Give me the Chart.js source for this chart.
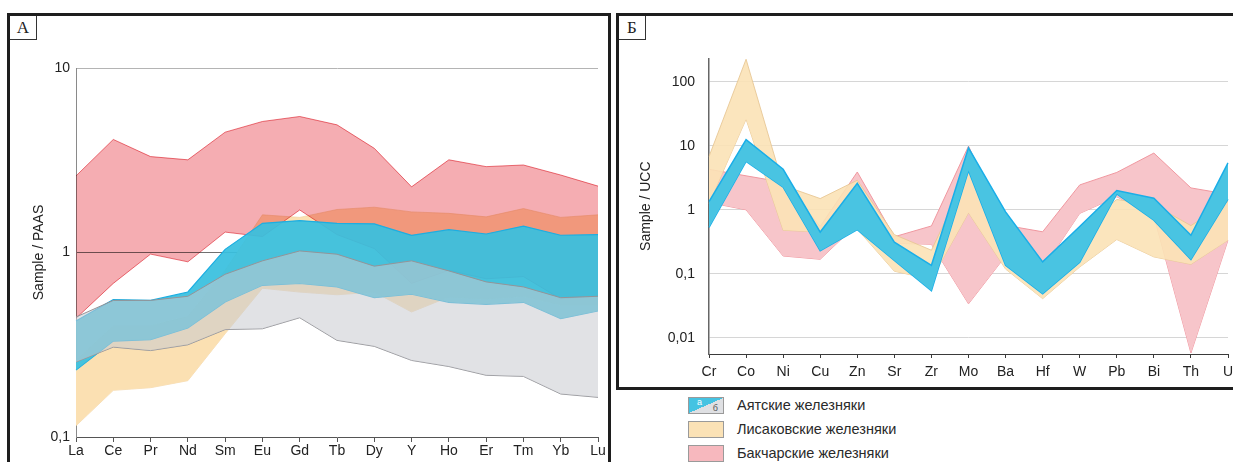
<!DOCTYPE html>
<html lang="ru">
<head>
<meta charset="utf-8">
<title>Sample / PAAS, Sample / UCC</title>
<script src="https://cdn.jsdelivr.net/npm/chart.js@4.4.1/dist/chart.umd.min.js"></script>
<style>
  html, body { margin: 0; padding: 0; background: #fff; overflow: hidden; }
  body { width: 1233px; height: 462px; position: relative; font-family: "Liberation Sans", Arial, sans-serif; }
  .panel { position: absolute; box-sizing: border-box; border: 3px solid #1e1e1e; }
  #panelA { left: 7px; top: 13px; width: 604px; height: 480px; }
  #panelB { left: 616px; top: 13px; width: 700px; height: 377px; }
  .tag { position: absolute; left: 0; top: 0; width: 26px; height: 23px;
         border-right: 1px solid #333; border-bottom: 1px solid #333;
         font-family: "Liberation Serif", serif; font-size: 17px; line-height: 24px;
         text-align: center; color: #222; }
  canvas { position: absolute; }
  #chartA { left: 20px; top: 50px; }
  #chartB { left: 625px; top: 36px; }
  .legend-item { position: absolute; left: 688px; height: 16px; }
  .swatch { position: absolute; left: 0; top: 0; width: 34px; height: 15px; border: 1px solid #9a9a9a; }
  .swatch i, .swatch b { position: absolute; font-style: normal; font-weight: normal; font-size: 9px; line-height: 9px; }
  .swatch i { left: 8px; top: 0px; color: #fff; }
  .swatch b { right: 5px; bottom: 0px; color: #555; }
  .legend-text { position: absolute; left: 49px; top: -1px; font-size: 14.5px; line-height: 19px; color: #2a2a2a; white-space: nowrap; }
</style>
</head>
<body>
<div class="panel" id="panelA"><div class="tag">А</div></div>
<div class="panel" id="panelB"><div class="tag">Б</div></div>
<canvas id="chartA" width="590" height="410"></canvas>
<canvas id="chartB" width="640" height="350"></canvas>
<div id="legend"></div>

<script>
// ===============================
// DONNÉES
// ===============================

// Panel А : REE normalisés PAAS
const reeLabels = ['La', 'Ce', 'Pr', 'Nd', 'Sm', 'Eu', 'Gd', 'Tb', 'Dy', 'Y', 'Ho', 'Er', 'Tm', 'Yb', 'Lu'];
const paasTicks = [0.1, 1, 10];
const paasTickLabels = ['0,1', '1', '10'];

const lisakA_max = [0.26, 0.40, 0.40, 0.45, 0.80, 1.60, 1.55, 1.71, 1.76, 1.66, 1.63, 1.56, 1.73, 1.55, 1.60];
const lisakA_min = [0.115, 0.179, 0.185, 0.202, 0.363, 0.64, 0.61, 0.59, 0.61, 0.476, 0.574, 0.56, 0.58, 0.52, 0.52];

const bakcharA_max = [2.6, 4.1, 3.31, 3.18, 4.49, 5.13, 5.46, 4.92, 3.67, 2.27, 3.18, 2.92, 2.98, 2.63, 2.29];
const bakcharA_min = [0.44, 0.68, 0.98, 0.89, 1.29, 1.22, 1.70, 1.25, 1.05, 0.68, 0.80, 0.72, 0.74, 0.56, 0.58];

const ayatA_max = [0.425, 0.556, 0.55, 0.611, 1.04, 1.44, 1.49, 1.44, 1.43, 1.24, 1.33, 1.26, 1.39, 1.24, 1.25];
const ayatA_min = [0.231, 0.331, 0.337, 0.390, 0.539, 0.664, 0.679, 0.651, 0.569, 0.594, 0.537, 0.524, 0.537, 0.438, 0.482];

const ayatB_max = [0.447, 0.55, 0.55, 0.579, 0.762, 0.901, 1.02, 0.979, 0.843, 0.901, 0.795, 0.693, 0.651, 0.569, 0.579];
const ayatB_min = [0.255, 0.307, 0.294, 0.316, 0.382, 0.386, 0.443, 0.334, 0.310, 0.260, 0.241, 0.216, 0.213, 0.171, 0.164];

// Panel Б : éléments traces normalisés UCC
const traceLabels = ['Cr', 'Co', 'Ni', 'Cu', 'Zn', 'Sr', 'Zr', 'Mo', 'Ba', 'Hf', 'W', 'Pb', 'Bi', 'Th', 'U'];
const uccTicks = [0.01, 0.1, 1, 10, 100];
const uccTickLabels = ['0,01', '0,1', '1', '10', '100'];

const bakcharT_max = [4.3, 3.4, 2.7, 0.55, 3.9, 0.38, 0.56, 9.9, 0.573, 0.454, 2.45, 3.84, 7.7, 2.2, 1.75];
const bakcharT_min = [1.3, 1.0, 0.19, 0.169, 0.6, 0.3, 0.29, 0.034, 0.19, 0.12, 0.88, 1.6, 0.81, 0.0058, 0.336];

const lisakT_max = [6.8, 225, 2.4, 1.5, 2.9, 0.41, 0.234, 3.9, 0.9, 0.15, 0.5, 1.45, 1.2, 0.567, 1.35];
const lisakT_min = [1.26, 26, 0.48, 0.45, 0.5, 0.11, 0.082, 0.90, 0.119, 0.041, 0.128, 0.344, 0.184, 0.141, 0.336];

const ayatT_max = [1.34, 12.5, 4.3, 0.45, 2.6, 0.313, 0.136, 9.3, 0.93, 0.154, 0.55, 2.0, 1.52, 0.40, 5.4];
const ayatT_min = [0.53, 5.7, 2.26, 0.229, 0.49, 0.162, 0.0546, 4.1, 0.136, 0.049, 0.152, 1.78, 0.69, 0.168, 1.47];

const seriesNames = ['Аятские железняки', 'Лисаковские железняки', 'Бакчарские железняки'];

// ===============================
// OUTILS
// ===============================

Chart.defaults.font.family = '"Liberation Sans", Arial, sans-serif';
Chart.defaults.font.size = 14;
Chart.defaults.color = '#222';

// une bande = ligne basse + ligne haute remplie jusqu'à la précédente
function band(lower, upper, fillColor, lineColor, lineWidth, blend) {
    const base = { pointRadius: 0, pointHoverRadius: 0, tension: 0, borderColor: lineColor, borderWidth: lineWidth, blend: blend };
    return [
        Object.assign({}, base, { data: lower, fill: false }),
        Object.assign({}, base, { data: upper, fill: '-1', backgroundColor: fillColor })
    ];
}

// premier dataset dessiné en dessous
function stackOrder(sets) {
    return sets.map((d, i) => Object.assign(d, { order: sets.length - i }));
}

// mode de fusion (multiply) pour certaines bandes
function setBlend(chart, i) {
    const ds = chart.data.datasets[i];
    chart.ctx.globalCompositeOperation = (ds && ds.blend) || 'source-over';
}
const blendPlugin = {
    id: 'bandBlend',
    beforeDatasetsDraw(chart) { setBlend(chart, 0); },
    afterDatasetDraw(chart, args) { setBlend(chart, args.index + 1); },
    afterDatasetsDraw(chart) { chart.ctx.globalCompositeOperation = 'source-over'; }
};

function logAxis(min, max, ticks, labels, opts) {
    return {
        type: 'logarithmic',
        min: min,
        max: max,
        afterBuildTicks: s => { s.ticks = ticks.map(v => ({ value: v })); },
        afterFit: s => { s.width = opts.width; },
        ticks: {
            padding: opts.padding,
            autoSkip: false,
            callback: v => { const k = ticks.indexOf(v); return k >= 0 ? labels[k] : ''; }
        },
        grid: { color: opts.gridColor, drawTicks: false, lineWidth: 1 },
        border: { display: true, color: opts.axisColor, width: opts.axisWidth },
        title: {
            display: true,
            text: opts.title,
            color: '#222',
            font: { size: 14 },
            padding: { top: opts.titlePad, bottom: 0 }
        }
    };
}

function catAxis(height, tickLen, pad, color) {
    return {
        type: 'category',
        offset: false,
        afterFit: s => { s.height = height; },
        ticks: { padding: pad, autoSkip: false, maxRotation: 0 },
        grid: { display: true, drawOnChartArea: false, drawTicks: true, tickLength: tickLen, color: color },
        border: { display: true, color: color, width: 1 }
    };
}

// ===============================
// GRAPHIQUE А
// ===============================

new Chart(document.getElementById('chartA').getContext('2d'), {
    type: 'line',
    data: {
        labels: reeLabels,
        datasets: stackOrder([
            ...band(lisakA_min, lisakA_max, 'rgb(251,224,178)', 'rgba(240,205,150,0.8)', 0.8),
            ...band(bakcharA_min, bakcharA_max, 'rgb(245,173,178)', 'rgb(236,118,126)', 1, 'multiply'),
            ...band(ayatA_min, ayatA_max, 'rgba(56,191,223,0.93)', 'rgb(28,174,226)', 1.2),
            ...band(ayatB_min, ayatB_max, 'rgba(200,202,207,0.55)', 'rgb(148,148,152)', 1)
        ])
    },
    options: {
        responsive: false,
        animation: false,
        events: [],
        layout: { padding: { top: 18, right: 12, left: 0, bottom: 0 } },
        plugins: { legend: { display: false }, tooltip: { enabled: false } },
        scales: {
            x: catAxis(23, 5, 1, '#555'),
            y: logAxis(0.1, 10, paasTicks, paasTickLabels, {
                width: 56, padding: 6, axisColor: '#8a8a8a', axisWidth: 1,
                gridColor: c => c.tick && c.tick.value === 1 ? '#707070' : (c.tick && c.tick.value === 10 ? '#b4b4b4' : 'rgba(0,0,0,0)'),
                title: 'Sample / PAAS', titlePad: 11
            })
        }
    },
    plugins: [blendPlugin]
});

// ===============================
// GRAPHIQUE Б
// ===============================

new Chart(document.getElementById('chartB').getContext('2d'), {
    type: 'line',
    data: {
        labels: traceLabels,
        datasets: stackOrder([
            ...band(bakcharT_min, bakcharT_max, 'rgb(247,197,202)', 'rgb(240,152,160)', 1),
            ...band(lisakT_min, lisakT_max, 'rgba(251,226,182,0.9)', 'rgba(232,200,150,0.9)', 1),
            ...band(ayatT_min, ayatT_max, 'rgb(73,196,226)', 'rgb(26,174,232)', 1.5)
        ])
    },
    options: {
        responsive: false,
        animation: false,
        events: [],
        layout: { padding: { top: 14, right: 37, left: 0, bottom: 0 } },
        plugins: { legend: { display: false }, tooltip: { enabled: false } },
        scales: {
            x: catAxis(32, 4, 6, '#3a3a3a'),
            y: logAxis(0.0056, 232, uccTicks, uccTickLabels, {
                width: 84, padding: 14, axisColor: '#666', axisWidth: 1.5,
                gridColor: '#d6d6d6',
                title: 'Sample / UCC', titlePad: 13
            })
        }
    },
    plugins: [blendPlugin]
});

// ===============================
// LÉGENDE
// ===============================

const swatchFills = [
    'linear-gradient(to top left, #dfe0e3 50%, #45c3e2 50%)',
    'rgb(251,226,182)',
    'rgb(247,184,190)'
];
const legendTops = [397, 421, 445];
const legend = document.getElementById('legend');
seriesNames.forEach((name, i) => {
    const item = document.createElement('div');
    item.className = 'legend-item';
    item.style.top = legendTops[i] + 'px';
    const sw = document.createElement('span');
    sw.className = 'swatch';
    sw.style.background = swatchFills[i];
    if (i === 0) sw.innerHTML = '<i>а</i><b>б</b>';
    const txt = document.createElement('span');
    txt.className = 'legend-text';
    txt.textContent = name;
    item.appendChild(sw);
    item.appendChild(txt);
    legend.appendChild(item);
});
</script>
</body>
</html>
